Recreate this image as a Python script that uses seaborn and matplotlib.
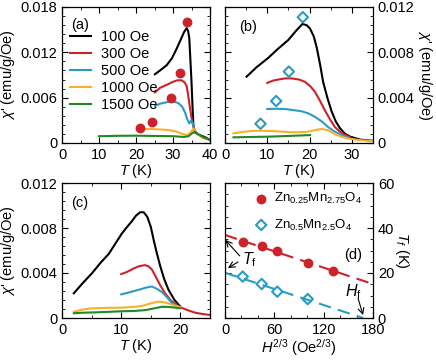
import numpy as np
import pandas as pd
import seaborn as sns
import matplotlib.pyplot as plt
from matplotlib.ticker import MultipleLocator, FuncFormatter

# ---- colours / labels
fields = ["100 Oe", "300 Oe", "500 Oe", "1000 Oe", "1500 Oe"]
colors = ["#000000", "#cc2229", "#2a9cc4", "#fbae2c", "#1f8a22"]

# ---- panel (a): chi' vs T
a_T = {
    "100 Oe": [25.1, 26.5, 28.3, 29.7, 31.0, 32.2, 33.0, 33.7, 34.1, 34.4, 34.7, 35.0, 35.3, 35.5, 35.9, 37.0, 38.5, 40.0],
    "300 Oe": [25.1, 26.5, 28.3, 30.0, 31.2, 32.3, 33.2, 33.7, 34.2, 34.6, 35.2, 35.8],
    "500 Oe": [25.1, 26.5, 28.3, 30.0, 31.4, 32.5, 33.2, 33.9, 34.4, 34.8, 35.0, 35.3, 35.6],
    "1000 Oe": [21.1, 24.0, 26.5, 29.0, 31.0, 32.5, 33.7, 34.6, 35.2, 35.5, 36.0, 36.8, 38.0, 39.1],
    "1500 Oe": [10.0, 15.0, 20.0, 25.0, 30.0, 33.0, 34.2, 35.2, 35.9, 36.7, 38.0, 40.0],
}
a_chi = {
    "100 Oe": [0.0091, 0.0096, 0.0103, 0.0112, 0.0125, 0.0138, 0.0147, 0.0152, 0.0148, 0.0139, 0.0110,
               0.0081, 0.0045, 0.0024, 0.0014, 0.0011, 0.0008, 0.0004],
    "300 Oe": [0.0067, 0.0073, 0.0077, 0.0081, 0.0083, 0.0083, 0.0080, 0.0075, 0.0060, 0.0046, 0.0028, 0.0017],
    "500 Oe": [0.0049, 0.0052, 0.0054, 0.0055, 0.0053, 0.0048, 0.0041, 0.0031, 0.0026, 0.0029, 0.0030,
               0.0026, 0.0021],
    "1000 Oe": [0.00185, 0.00185, 0.0018, 0.0017, 0.0015, 0.0012, 0.00106, 0.0013, 0.0017, 0.0019, 0.0016,
                0.0011, 0.0007, 0.0005],
    "1500 Oe": [0.0009, 0.00095, 0.00097, 0.00093, 0.0009, 0.0008, 0.0009, 0.0013, 0.0015, 0.0012, 0.0008, 0.0004],
}
a_peak_T = [21.1, 24.4, 29.5, 31.9, 33.9]
a_peak_chi = [0.00195, 0.0028, 0.0060, 0.0093, 0.0160]

# ---- panel (b)
b_T = {
    "100 Oe": [5.1, 7.5, 10.2, 12.5, 15.0, 16.8, 18.3, 19.3, 20.1, 21.0, 21.7, 22.5, 23.2, 24.2, 25.2,
               26.2, 27.2, 28.4, 29.6, 32.0, 35.0],
    "300 Oe": [10.0, 11.3, 12.6, 14.2, 15.8, 17.5, 18.9, 20.2, 21.3, 22.5, 23.6, 24.8, 26.0, 27.2, 28.4, 29.6],
    "500 Oe": [10.0, 12.0, 14.2, 16.2, 18.1, 19.8, 21.3, 22.9, 24.4, 26.0, 27.6, 29.0],
    "1000 Oe": [2.0, 4.0, 6.3, 8.5, 11.0, 13.5, 15.8, 17.8, 19.7, 21.3, 22.9, 24.5, 26.0, 27.5, 29.1, 32.0, 35.0],
    "1500 Oe": [2.0, 6.0, 10.2, 15.0, 20.1],
}
b_chi = {
    "100 Oe": [0.00585, 0.0067, 0.0075, 0.0083, 0.0091, 0.0099, 0.0105, 0.0104, 0.0101, 0.0094, 0.0084,
               0.0069, 0.0054, 0.0040, 0.0028, 0.0019, 0.0013, 0.0008, 0.00056, 0.0003, 0.0002],
    "300 Oe": [0.0053, 0.0055, 0.0056, 0.0057, 0.0057, 0.0056, 0.0054, 0.0050, 0.0045, 0.0037, 0.0029,
               0.0021, 0.0014, 0.0010, 0.0007, 0.0005],
    "500 Oe": [0.0030, 0.00302, 0.0030, 0.0029, 0.0028, 0.0026, 0.0023, 0.0019, 0.0014, 0.0010, 0.0007, 0.0005],
    "1000 Oe": [0.00085, 0.00097, 0.00106, 0.00108, 0.00106, 0.0010, 0.00094, 0.00096, 0.0010, 0.00115,
                0.00124, 0.0011, 0.00077, 0.00055, 0.0004, 0.00025, 0.00018],
    "1500 Oe": [0.0005, 0.00053, 0.00056, 0.00062, 0.0007],
}
b_peak_T = [8.4, 12.1, 15.1, 18.4]
b_peak_chi = [0.0017, 0.0037, 0.0063, 0.0111]

# ---- panel (c)
c_T = {
    "100 Oe": [2.0, 3.5, 5.1, 6.5, 7.9, 9.0, 10.1, 11.0, 11.8, 12.5, 13.2, 13.8, 14.4, 15.0, 15.5, 16.0,
               16.6, 17.3, 18.0, 19.0, 20.0],
    "300 Oe": [10.0, 11.0, 12.1, 13.0, 14.0, 14.6, 15.2, 15.9, 16.6, 17.4, 18.3, 19.2, 20.0, 21.2, 22.5,
               23.8, 25.0],
    "500 Oe": [10.0, 11.5, 12.9, 14.2, 15.2, 16.0, 16.9, 17.8, 18.6, 19.3, 20.0],
    "1000 Oe": [2.0, 3.5, 5.1, 7.5, 10.0, 12.0, 13.5, 15.0, 16.3, 17.2, 18.0, 19.0, 20.0],
    "1500 Oe": [2.0, 3.5, 5.6, 8.0, 10.1, 12.0, 14.1, 15.5, 16.9, 18.0, 18.6, 20.0],
}
c_chi = {
    "100 Oe": [0.0022, 0.0031, 0.0040, 0.0049, 0.0057, 0.0066, 0.0075, 0.0081, 0.0086, 0.0091, 0.0094,
               0.0094, 0.0090, 0.0081, 0.0069, 0.0058, 0.0046, 0.0034, 0.0025, 0.0016, 0.0010],
    "300 Oe": [0.0039, 0.0041, 0.0044, 0.0046, 0.0047, 0.0046, 0.0043, 0.0036, 0.0029, 0.0022, 0.0016,
               0.0012, 0.00095, 0.0007, 0.00047, 0.00035, 0.00027],
    "500 Oe": [0.0021, 0.0023, 0.0025, 0.0027, 0.0028, 0.0026, 0.0023, 0.0018, 0.0013, 0.0011, 0.00095],
    "1000 Oe": [0.00056, 0.00075, 0.00086, 0.0009, 0.00092, 0.00098, 0.00107, 0.0013, 0.00145, 0.0014,
                0.0013, 0.0011, 0.00095],
    "1500 Oe": [0.00042, 0.00047, 0.0005, 0.00055, 0.0006, 0.00062, 0.0007, 0.00085, 0.0010, 0.00098,
                0.00095, 0.00086],
}

# ---- panel (d): Tf vs H^(2/3)
d_H = [21.5, 44.6, 63.6, 100.6, 131.8]
d_Tf_025 = [33.9, 32.0, 29.6, 24.3, 21.0]
d_H_05 = [21.5, 44.6, 63.6, 100.6]
d_Tf_05 = [18.4, 15.1, 11.7, 8.4]
fit_H_025 = [0, 180]
fit_Tf_025 = [36.9, 15.1]
fit_H_05 = [0, 168]
fit_Tf_05 = [20.1, 0.0]

plt.rcParams["font.family"] = "Liberation Sans"
plt.rcParams["mathtext.fontset"] = "custom"
plt.rcParams["mathtext.rm"] = "Liberation Sans"
plt.rcParams["mathtext.it"] = "Liberation Sans:italic"
plt.rcParams["font.size"] = 10.5
for ax_ in ("xtick", "ytick"):
    plt.rcParams[f"{ax_}.direction"] = "in"
    plt.rcParams[f"{ax_}.major.size"] = 4.5
    plt.rcParams[f"{ax_}.minor.size"] = 2.5
    plt.rcParams[f"{ax_}.labelsize"] = 10.5
plt.rcParams["xtick.top"] = True
plt.rcParams["ytick.right"] = True
plt.rcParams["axes.linewidth"] = 0.9

fig = plt.figure(figsize=(4.36, 3.61), dpi=100)
W, H = 436, 361


def add_ax(l, r, t, b):
    return fig.add_axes([l / W, 1 - b / H, (r - l) / W, (b - t) / H])


def chi_fmt(v, pos):
    return "0" if abs(v) < 1e-9 else f"{v:.3f}"


ax_a = add_ax(62, 210, 7, 143)
ax_b = add_ax(225, 373, 7, 143)
ax_c = add_ax(62, 210, 183, 318)
ax_d = add_ax(225, 373, 183, 318)

chi_label = r"$\chi$' (emu/g/Oe)"
T_label = r"$T$ (K)"

for ax, Td, cd in [(ax_a, a_T, a_chi), (ax_b, b_T, b_chi), (ax_c, c_T, c_chi)]:
    for f, col in zip(fields, colors):
        sns.lineplot(x=Td[f], y=cd[f], sort=False, color=col, lw=1.5,
                     label=f if ax is ax_a else None, ax=ax, legend=False)

sns.scatterplot(x=a_peak_T, y=a_peak_chi, color="#cc2229", s=50, linewidth=0,
                ax=ax_a, zorder=5)
sns.scatterplot(x=b_peak_T, y=b_peak_chi, marker="D", s=28, facecolor="none",
                edgecolor="#2a9cc4", linewidth=1.5, ax=ax_b, zorder=5)

# (a)
ax_a.set_xlim(0, 40)
ax_a.set_ylim(0, 0.018)
ax_a.xaxis.set_major_locator(MultipleLocator(10))
ax_a.xaxis.set_minor_locator(MultipleLocator(5))
ax_a.yaxis.set_major_locator(MultipleLocator(0.006))
ax_a.yaxis.set_minor_locator(MultipleLocator(0.0012))
ax_a.yaxis.set_major_formatter(FuncFormatter(chi_fmt))
ax_a.set_xlabel(T_label, labelpad=0)
ax_a.set_ylabel(chi_label, labelpad=2)
ax_a.legend(loc="upper left", bbox_to_anchor=(0.055, 0.83), frameon=False,
            handlelength=1.4, handletextpad=0.7, labelspacing=0.2,
            borderaxespad=0, borderpad=0, fontsize=10.5)
ax_a.text(0.12, 0.87, "(a)", transform=ax_a.transAxes, ha="center", va="center")

# (b)
ax_b.set_xlim(0, 35)
ax_b.set_ylim(0, 0.012)
ax_b.xaxis.set_major_locator(MultipleLocator(10))
ax_b.xaxis.set_minor_locator(MultipleLocator(5))
ax_b.yaxis.set_major_locator(MultipleLocator(0.004))
ax_b.yaxis.set_minor_locator(MultipleLocator(0.0008))
ax_b.yaxis.set_major_formatter(FuncFormatter(chi_fmt))
ax_b.yaxis.set_label_position("right")
ax_b.tick_params(axis="y", labelleft=False, labelright=True)
ax_b.set_xlabel(T_label, labelpad=0)
ax_b.set_ylabel(chi_label, rotation=270, labelpad=14)
ax_b.text(0.155, 0.855, "(b)", transform=ax_b.transAxes, ha="center", va="center")

# (c)
ax_c.set_xlim(0, 25)
ax_c.set_ylim(0, 0.012)
ax_c.xaxis.set_major_locator(MultipleLocator(10))
ax_c.xaxis.set_minor_locator(MultipleLocator(5))
ax_c.yaxis.set_major_locator(MultipleLocator(0.004))
ax_c.yaxis.set_minor_locator(MultipleLocator(0.0008))
ax_c.yaxis.set_major_formatter(FuncFormatter(chi_fmt))
ax_c.set_xlabel(T_label, labelpad=0)
ax_c.set_ylabel(chi_label, labelpad=2)
ax_c.text(0.12, 0.85, "(c)", transform=ax_c.transAxes, ha="center", va="center")

# (d)
sns.lineplot(x=fit_H_025, y=fit_Tf_025, color="#cc2229", lw=1.5, ax=ax_d,
             linestyle=(0, (6, 3.5)))
sns.lineplot(x=fit_H_05, y=fit_Tf_05, color="#2a9cc4", lw=1.5, ax=ax_d,
             linestyle=(0, (6, 3.5)))
sns.scatterplot(x=d_H, y=d_Tf_025, color="#cc2229", s=50, linewidth=0, ax=ax_d,
                zorder=5, label=r"Zn$_{0.25}$Mn$_{2.75}$O$_4$")
sns.scatterplot(x=d_H_05, y=d_Tf_05, marker="D", s=28, facecolor="none",
                edgecolor="#2a9cc4", linewidth=1.5, ax=ax_d, zorder=5,
                label=r"Zn$_{0.5}$Mn$_{2.5}$O$_4$")
ax_d.set_xlim(0, 180)
ax_d.set_ylim(0, 60)
ax_d.xaxis.set_major_locator(MultipleLocator(60))
ax_d.xaxis.set_minor_locator(MultipleLocator(20))
ax_d.yaxis.set_major_locator(MultipleLocator(20))
ax_d.yaxis.set_minor_locator(MultipleLocator(5))
ax_d.yaxis.set_label_position("right")
ax_d.tick_params(axis="y", labelleft=False, labelright=True)
ax_d.set_xlabel(r"$H^{2/3}$ (Oe$^{2/3}$)", labelpad=0)
ax_d.set_ylabel(r"$T_f$ (K)", rotation=270, labelpad=12)
ax_d.legend(loc="upper left", bbox_to_anchor=(0.2, 0.94), frameon=False,
            handlelength=1.0, handletextpad=0.5, labelspacing=0.85,
            borderaxespad=0, borderpad=0, fontsize=9.5)
ax_d.text(155.7, 28, "(d)", ha="center", va="center")
ax_d.text(30, 25.8, r"$T_\mathrm{f}$", ha="center", va="center", fontsize=11.5)
arrow = dict(arrowstyle="->", lw=0.8, color="black", shrinkA=0, shrinkB=0)
ax_d.annotate("", xy=(0.4, 34.7), xytext=(17.9, 27.6), arrowprops=arrow)
ax_d.annotate("", xy=(3.6, 22.2), xytext=(15.8, 24.9), arrowprops=arrow)
ax_d.text(155.7, 11.7, r"$H_\mathrm{f}$", ha="center", va="center", fontsize=11.5)
ax_d.annotate("", xy=(167.9, 1.3), xytext=(161.8, 8.8), arrowprops=arrow)

fig.savefig("out.png", dpi=100)
